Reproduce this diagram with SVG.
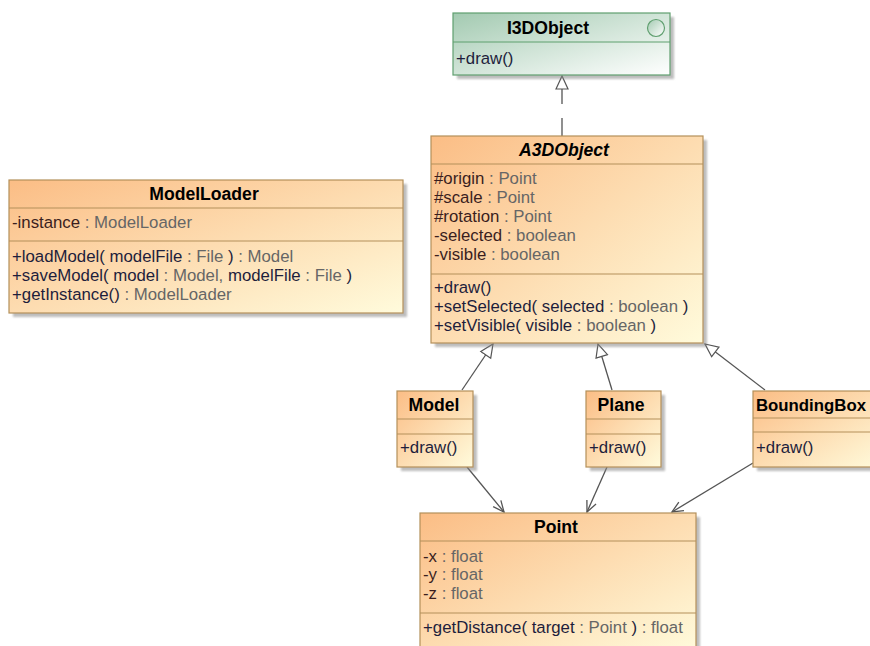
<svg xmlns="http://www.w3.org/2000/svg" width="870" height="646" viewBox="0 0 870 646">
<defs>
<linearGradient id="orange" x1="0" y1="0" x2="1" y2="1">
<stop offset="0" stop-color="#fbbd85"/>
<stop offset="1" stop-color="#fffbdc"/>
</linearGradient>
<linearGradient id="green" x1="0" y1="0" x2="1" y2="1">
<stop offset="0" stop-color="#a3cab1"/>
<stop offset="1" stop-color="#ffffff"/>
</linearGradient>
<filter id="sh" x="-10%" y="-10%" width="130%" height="130%">
<feGaussianBlur stdDeviation="1.2"/>
</filter>
<marker id="tri" markerUnits="userSpaceOnUse" markerWidth="16" markerHeight="16" viewBox="0 0 16 16" refX="14" refY="8" orient="auto">
<path d="M1,2 L14,8 L1,14 Z" fill="#fff" stroke="#555" stroke-width="1.2"/>
</marker>
<marker id="open" markerUnits="userSpaceOnUse" markerWidth="16" markerHeight="16" viewBox="0 0 16 16" refX="14" refY="8" orient="auto">
<path d="M3,3 L14,8 L3,13" fill="none" stroke="#555" stroke-width="1.3"/>
</marker>
</defs>
<style>
.box{fill:url(#orange);stroke:#b4905a;stroke-width:1.2}
.gbox{fill:url(#green);stroke:#5f9f6f;stroke-width:1.2}
.shadow{fill:#888;opacity:0.55;filter:url(#sh)}
.div{stroke:#b4905a;stroke-width:1.2}
.gdiv{stroke:#5f9f6f;stroke-width:1.2}
text{font-family:"Liberation Sans",Arial,sans-serif;font-size:16.8px}
.hdr{font-weight:bold;font-size:17.6px;fill:#000;text-anchor:middle}
.nm{fill:#1e1e3c}
.at{fill:#3a1e1e}
.ty{fill:#666}
.edge{stroke:#555;stroke-width:1.3;fill:none}
</style>

<g id="connectors">
<path class="edge" d="M562,136 L562,76" stroke-dasharray="18,14" marker-end="url(#tri)"/>
<path class="edge" d="M462,390 L493,344" marker-end="url(#tri)"/>
<path class="edge" d="M612,390 L598,344" marker-end="url(#tri)"/>
<path class="edge" d="M765,390 L705,344" marker-end="url(#tri)"/>
<path class="edge" d="M467,467 L504,512" marker-end="url(#open)"/>
<path class="edge" d="M607,467 L587,512" marker-end="url(#open)"/>
<path class="edge" d="M753,463 L672,512" marker-end="url(#open)"/>
</g>

<g id="I3DObject">
<rect class="shadow" x="457" y="17" width="217" height="62"/>
<rect class="gbox" x="453" y="13" width="217" height="62"/>
<line class="gdiv" x1="453" y1="42" x2="670" y2="42"/>
<circle cx="656" cy="28" r="8.5" fill="url(#green)" stroke="#5f9f6f" stroke-width="1.2"/>
<text class="hdr" x="548" y="34">I3DObject</text>
<text x="456" y="64"><tspan class="nm">+draw()</tspan></text>
</g>

<g id="A3DObject">
<rect class="shadow" x="435" y="140" width="272" height="207"/>
<rect class="box" x="431" y="136" width="272" height="207"/>
<line class="div" x1="431" y1="164" x2="703" y2="164"/>
<line class="div" x1="431" y1="274" x2="703" y2="274"/>
<text class="hdr" x="564" y="156" font-style="italic">A3DObject</text>
<text x="434" y="184"><tspan class="at">#origin</tspan><tspan class="ty"> : Point</tspan></text>
<text x="434" y="203"><tspan class="at">#scale</tspan><tspan class="ty"> : Point</tspan></text>
<text x="434" y="222"><tspan class="at">#rotation</tspan><tspan class="ty"> : Point</tspan></text>
<text x="434" y="241"><tspan class="at">-selected</tspan><tspan class="ty"> : boolean</tspan></text>
<text x="434" y="260"><tspan class="at">-visible</tspan><tspan class="ty"> : boolean</tspan></text>
<text x="434" y="293"><tspan class="nm">+draw()</tspan></text>
<text x="434" y="312"><tspan class="nm">+setSelected( selected</tspan><tspan class="ty"> : boolean </tspan><tspan class="nm">)</tspan></text>
<text x="434" y="331"><tspan class="nm">+setVisible( visible</tspan><tspan class="ty"> : boolean </tspan><tspan class="nm">)</tspan></text>
</g>

<g id="ModelLoader">
<rect class="shadow" x="13" y="184" width="394" height="133"/>
<rect class="box" x="9" y="180" width="394" height="133"/>
<line class="div" x1="9" y1="208" x2="403" y2="208"/>
<line class="div" x1="9" y1="241" x2="403" y2="241"/>
<text class="hdr" x="204" y="200">ModelLoader</text>
<text x="12" y="228"><tspan class="at">-instance</tspan><tspan class="ty"> : ModelLoader</tspan></text>
<text x="12" y="262"><tspan class="nm">+loadModel( modelFile</tspan><tspan class="ty"> : File </tspan><tspan class="nm">)</tspan><tspan class="ty"> : Model</tspan></text>
<text x="12" y="281"><tspan class="nm">+saveModel( model</tspan><tspan class="ty"> : Model, </tspan><tspan class="nm">modelFile</tspan><tspan class="ty"> : File </tspan><tspan class="nm">)</tspan></text>
<text x="12" y="300"><tspan class="nm">+getInstance()</tspan><tspan class="ty"> : ModelLoader</tspan></text>
</g>

<g id="Model">
<rect class="shadow" x="401" y="395" width="76" height="76"/>
<rect class="box" x="397" y="391" width="76" height="76"/>
<line class="div" x1="397" y1="419" x2="473" y2="419"/>
<line class="div" x1="397" y1="434" x2="473" y2="434"/>
<text class="hdr" x="434" y="411">Model</text>
<text x="400" y="453"><tspan class="nm">+draw()</tspan></text>
</g>

<g id="Plane">
<rect class="shadow" x="590" y="395" width="75" height="76"/>
<rect class="box" x="586" y="391" width="75" height="76"/>
<line class="div" x1="586" y1="419" x2="661" y2="419"/>
<line class="div" x1="586" y1="434" x2="661" y2="434"/>
<text class="hdr" x="621" y="411">Plane</text>
<text x="589" y="453"><tspan class="nm">+draw()</tspan></text>
</g>

<g id="BoundingBox">
<rect class="shadow" x="757" y="395" width="130" height="76"/>
<rect class="box" x="753" y="391" width="130" height="76"/>
<line class="div" x1="753" y1="418" x2="883" y2="418"/>
<line class="div" x1="753" y1="432" x2="883" y2="432"/>
<text x="756" y="411" font-weight="bold" font-size="17.6" fill="#000">BoundingBox</text>
<text x="756" y="453"><tspan class="nm">+draw()</tspan></text>
</g>

<g id="Point">
<rect class="shadow" x="424" y="517" width="276" height="140"/>
<rect class="box" x="420" y="513" width="276" height="140"/>
<line class="div" x1="420" y1="541" x2="696" y2="541"/>
<line class="div" x1="420" y1="613" x2="696" y2="613"/>
<text class="hdr" x="556" y="533">Point</text>
<text x="423" y="562"><tspan class="at">-x</tspan><tspan class="ty"> : float</tspan></text>
<text x="423" y="580"><tspan class="at">-y</tspan><tspan class="ty"> : float</tspan></text>
<text x="423" y="599"><tspan class="at">-z</tspan><tspan class="ty"> : float</tspan></text>
<text x="423" y="633"><tspan class="nm">+getDistance( target</tspan><tspan class="ty"> : Point </tspan><tspan class="nm">)</tspan><tspan class="ty"> : float</tspan></text>
</g>
</svg>
